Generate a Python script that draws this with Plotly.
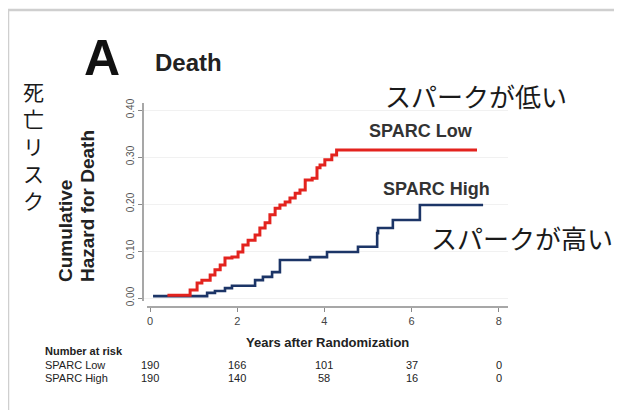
import plotly.graph_objects as go

# ---- data ----
low_time = [0.40, 0.92, 1.08, 1.19, 1.38, 1.49, 1.61, 1.72, 1.88, 2.02, 2.13, 2.25, 2.41, 2.52,
            2.64, 2.75, 2.87, 2.98, 3.10, 3.21, 3.33, 3.44, 3.56, 3.72, 3.83, 3.90, 4.01, 4.17,
            4.28, 7.50]
low_hazard = [0.006, 0.017, 0.032, 0.038, 0.049, 0.060, 0.070, 0.085, 0.087, 0.098, 0.113, 0.123,
              0.134, 0.149, 0.160, 0.177, 0.191, 0.198, 0.204, 0.213, 0.223, 0.230, 0.251, 0.255,
              0.277, 0.283, 0.294, 0.304, 0.315, 0.315]

high_time = [0.07, 1.31, 1.49, 1.72, 1.88, 2.41, 2.59, 2.80, 2.98, 3.67, 4.06, 4.77, 5.21, 5.23,
             5.57, 6.19, 7.64]
high_hazard = [0.004, 0.011, 0.015, 0.021, 0.026, 0.038, 0.045, 0.055, 0.081, 0.087, 0.098, 0.109,
               0.138, 0.149, 0.166, 0.198, 0.198]

x_ticks = [0, 2, 4, 6, 8]
x_tick_labels = ["0", "2", "4", "6", "8"]
y_ticks = [0.0, 0.1, 0.2, 0.3, 0.4]
y_tick_labels = ["0.00", "0.10", "0.20", "0.30", "0.40"]

risk_label_low = "SPARC Low"
risk_label_high = "SPARC High"
risk_low = [190, 166, 101, 37, 0]
risk_high = [190, 140, 58, 16, 0]

# ---- layout geometry (window pixels; the page body adds an 8px margin) ----
OFF = 8
WIN_W, WIN_H = 622, 410
W, H = WIN_W - OFF, WIN_H - OFF
PLOT_L, PLOT_R, PLOT_T, PLOT_B = 143, 508, 103, 307   # plot area in window pixels
L, R, T, B = PLOT_L - OFF, WIN_W - PLOT_R, PLOT_T - OFF, WIN_H - PLOT_B
PW, PH = PLOT_R - PLOT_L, PLOT_B - PLOT_T


def px(xp):
    return (xp - PLOT_L) / PW


def py(yp):
    return (PLOT_B - yp) / PH


RED = "#e3231e"
BLUE = "#1c3567"
AXIS = "#8a8a8a"
LATIN = "Liberation Sans, Arial, sans-serif"
CJK = "Noto Sans CJK JP"

fig = go.Figure()
fig.add_trace(go.Scatter(x=high_time, y=high_hazard, mode="lines", line_shape="hv",
                         line=dict(color=BLUE, width=2.6), showlegend=False, hoverinfo="skip"))
fig.add_trace(go.Scatter(x=low_time, y=low_hazard, mode="lines", line_shape="hv",
                         line=dict(color=RED, width=3), showlegend=False, hoverinfo="skip"))

ann = []
# panel letter and title
ann.append(dict(text="<b>A</b>", x=px(102), y=py(58), font=dict(size=50, color="#111", family=LATIN)))
ann.append(dict(text="<b>Death</b>", x=px(188), y=py(62), font=dict(size=24, color="#222", family=LATIN)))
# y-axis title (two rotated lines)
ann.append(dict(text="<b>Cumulative</b>", x=px(65), y=py(284), yanchor="bottom", textangle=-90,
                font=dict(size=19, color="#222", family=LATIN)))
ann.append(dict(text="<b>Hazard for Death</b>", x=px(87), y=py(284), yanchor="bottom", textangle=-90,
                font=dict(size=19, color="#222", family=LATIN)))
# x-axis title
ann.append(dict(text="<b>Years after Randomization</b>", x=px(327), y=py(342),
                font=dict(size=13, color="#222", family=LATIN)))
# curve labels
ann.append(dict(text="<b>SPARC Low</b>", x=px(421), y=py(131), font=dict(size=18, color="#333", family=LATIN)))
ann.append(dict(text="<b>SPARC High</b>", x=px(436), y=py(189), font=dict(size=18, color="#333", family=LATIN)))
# Japanese notes
ann.append(dict(text="スパークが低い", x=px(476), y=py(96), font=dict(size=26, color="#1a1a1a", family=CJK)))
ann.append(dict(text="スパークが高い", x=px(522), y=py(237), font=dict(size=26, color="#1a1a1a", family=CJK)))
ann.append(dict(text="<br>".join(list("死亡リスク")), x=px(33), y=py(145),
                font=dict(size=21, color="#1a1a1a", family=CJK)))
# number at risk table
ann.append(dict(text="<b>Number at risk</b>", x=px(43), y=py(351), xanchor="left",
                font=dict(size=11, color="#222", family=LATIN)))
ann.append(dict(text=risk_label_low, x=px(43), y=py(365), xanchor="left",
                font=dict(size=11, color="#222", family=LATIN)))
ann.append(dict(text=risk_label_high, x=px(43), y=py(378), xanchor="left",
                font=dict(size=11, color="#222", family=LATIN)))
for t, v in zip(x_ticks, risk_low):
    ann.append(dict(text=str(v), x=t, xref="x", y=py(365), font=dict(size=11, color="#222", family=LATIN)))
for t, v in zip(x_ticks, risk_high):
    ann.append(dict(text=str(v), x=t, xref="x", y=py(378), font=dict(size=11, color="#222", family=LATIN)))

for a in ann:
    a.setdefault("xref", "paper")
    a.setdefault("yref", "paper")
    a.setdefault("xanchor", "center")
    a.setdefault("yanchor", "middle")
    a["showarrow"] = False

shapes = [
    # outer light-grey frame (open at the bottom)
    dict(type="path", xref="paper", yref="paper",
         path=f"M {px(8)} {py(420)} L {px(8)} {py(10)} L {px(620)} {py(10)} L {px(620)} {py(420)}",
         line=dict(color="#cfcfcf", width=2.5)),
    # detached axis lines
    dict(type="line", xref="paper", yref="paper", x0=px(143), x1=px(143), y0=py(301), y1=py(103),
         line=dict(color=AXIS, width=1.5)),
    dict(type="line", xref="paper", yref="paper", x0=px(147), x1=px(508), y0=py(307), y1=py(307),
         line=dict(color=AXIS, width=1.5)),
]

fig.update_layout(
    width=W, height=H,
    margin=dict(l=L, r=R, t=T, b=B, pad=0),
    paper_bgcolor="white", plot_bgcolor="white",
    annotations=ann, shapes=shapes,
)
fig.update_xaxes(range=[-7 / 43.6, (508 - 150) / 43.6], tickvals=x_ticks, ticktext=x_tick_labels,
                 showline=False, ticks="outside", ticklen=4,
                 tickcolor=AXIS, showgrid=False, zeroline=False,
                 tickfont=dict(size=11, color="#444", family=LATIN))
fig.update_yaxes(range=[-9 / 470, 195 / 470], tickvals=y_ticks, ticktext=y_tick_labels,
                 showline=False, ticks="outside", ticklen=4,
                 tickcolor=AXIS, showgrid=True, gridcolor="#f1f1f1", zeroline=False,
                 tickangle=-90, tickfont=dict(size=10, color="#555", family=LATIN))

fig.write_html("out.html")
